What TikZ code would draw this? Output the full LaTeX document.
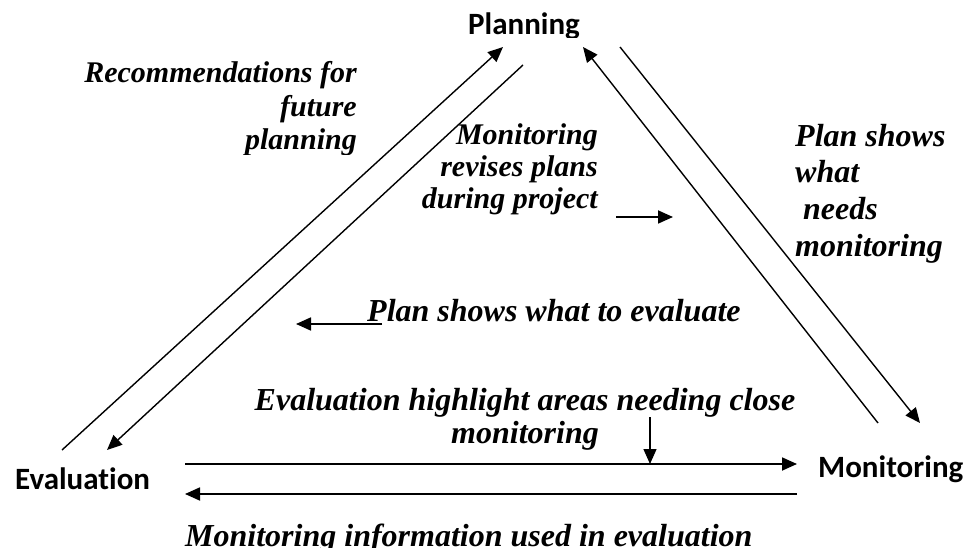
\documentclass[tikz,border=0pt]{standalone}
\usepackage{fontspec}
\setmainfont{Liberation Serif}
\newfontfamily\tnr{Liberation Serif}[BoldItalicFont={Liberation Serif Bold Italic}]
\newfontfamily\carlito{Carlito}[Ligatures={NoCommon,NoRequired,NoContextual}]
\usetikzlibrary{arrows.meta}
\tikzset{
  hd/.style={font=\carlito\bfseries\fontsize{31}{37}\selectfont, inner sep=0pt},
  lbl/.style={font=\tnr\bfseries\itshape\fontsize{32}{38}\selectfont, inner sep=0pt},
  lbls/.style={font=\tnr\bfseries\itshape\fontsize{30}{36}\selectfont, inner sep=0pt},
  conn/.style={line width=1.4pt},
  hconn/.style={line width=1.8pt},
  tip/.style={-{Triangle[length=15pt,width=13pt]}}
}
\begin{document}
\begin{tikzpicture}[x=1pt,y=-1pt]
\useasboundingbox (0,0) rectangle (970,548);
\clip (0,0) rectangle (970,548);
% main labels
\begin{scope}
  \clip (0,0) rectangle (970,37.5);
  \node[hd, anchor=base] (plan) at (524,35) {Planning};
\end{scope}
\node[hd, anchor=base west] (eval) at (15,489) {Evaluation};
\node[hd, anchor=base west] (mon) at (818,477) {Monitoring};
% connector end points
\coordinate (a1) at (62,450);  \coordinate (a2) at (503,47);
\coordinate (b1) at (523,65);  \coordinate (b2) at (107,450);
\coordinate (c1) at (878,423); \coordinate (c2) at (583,47);
\coordinate (d1) at (620,47);  \coordinate (d2) at (920,423);
\coordinate (e1) at (185,464); \coordinate (e2) at (797,464);
\coordinate (f1) at (797,494); \coordinate (f2) at (185,494);
\coordinate (g1) at (650,417); \coordinate (g2) at (650,464);
\coordinate (h1) at (616,217); \coordinate (h2) at (673,217);
\coordinate (i1) at (382,324); \coordinate (i2) at (296,324);
% connectors
\draw[conn,tip] (a1) -- (a2);
\draw[conn,tip] (b1) -- (b2);
\draw[conn,tip] (c1) -- (c2);
\draw[conn,tip] (d1) -- (d2);
\draw[hconn,tip] (e1) -- (e2);
\draw[hconn,tip] (f1) -- (f2);
\draw[conn,tip] (g1) -- (g2);
\draw[hconn,tip] (h1) -- (h2);
\draw[hconn,tip] (i1) -- (i2);
% text labels
\node[lbls, anchor=base east] (rec1) at (357,83) {Recommendations for};
\node[lbls, anchor=base east] (rec2) at (357,117) {future};
\begin{scope}
  \clip (0,0) rectangle (970,155);
  \node[lbls, anchor=base east] (rec3) at (357,150) {planning};
\end{scope}
\node[lbls, anchor=base east] (mr1) at (598,145) {Monitoring};
\node[lbls, anchor=base east] (mr2) at (598,177) {revises plans};
\node[lbls, anchor=base east] (mr3) at (598,209) {during project};
\node[lbl, anchor=base west] (ps1) at (795,147) {Plan shows};
\node[lbl, anchor=base west] (ps2) at (795,183) {what};
\node[lbl, anchor=base west] (ps3) at (803,220) {needs};
\node[lbl, anchor=base west] (ps4) at (795,257) {monitoring};
\node[lbl, anchor=base west] (pe) at (367,322) {Plan shows what to evaluate};
\node[lbl, anchor=base] (eh1) at (525,410) {Evaluation highlight areas needing close};
\node[lbl, anchor=base] (eh2) at (525,443) {monitoring};
\node[lbl, anchor=base west] (mi) at (185,546) {Monitoring information used in evaluation};
\end{tikzpicture}
\end{document}
